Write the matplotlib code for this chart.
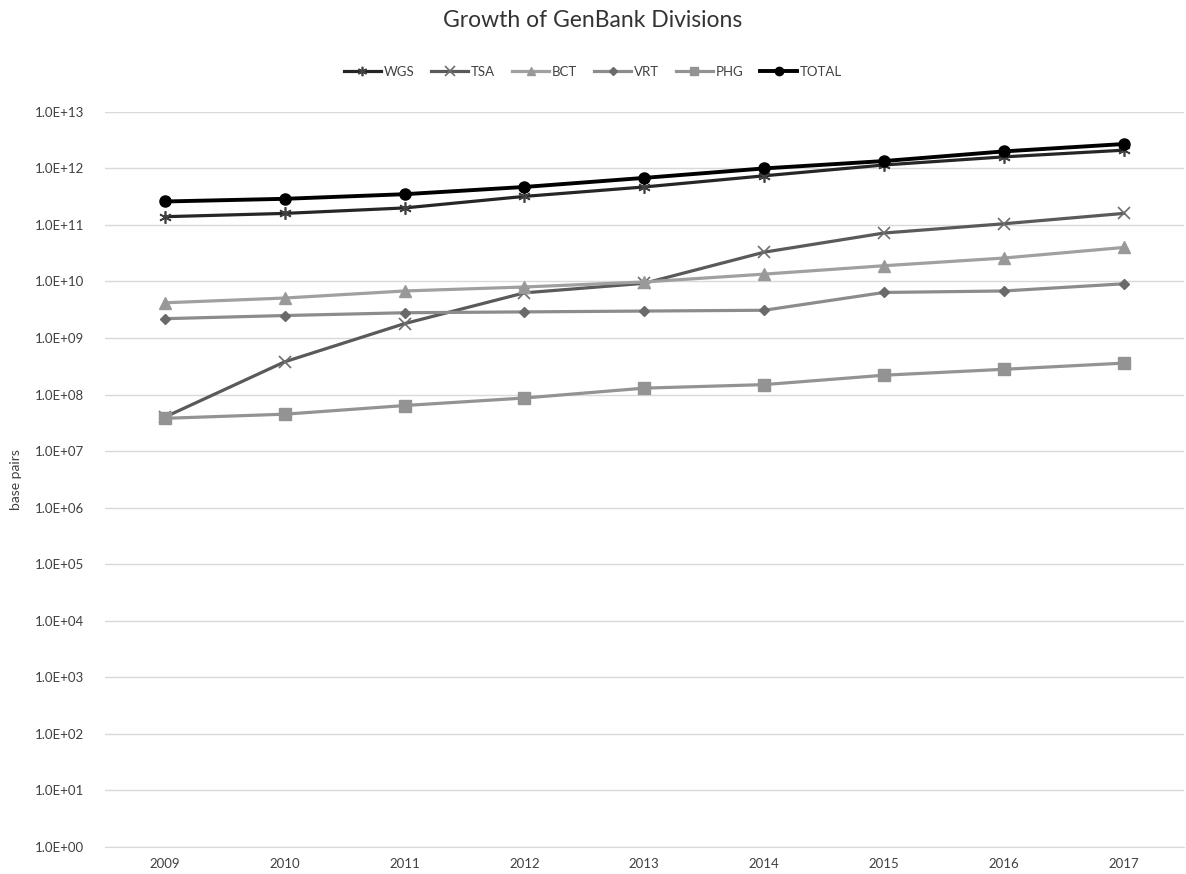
import matplotlib.pyplot as plt
from matplotlib.ticker import FixedLocator, NullLocator

plt.rcParams["font.family"] = ["Lato", "DejaVu Sans"]

years = ["2009", "2010", "2011", "2012", "2013", "2014", "2015", "2016", "2017"]
wgs = [1.4e11, 1.6e11, 2.0e11, 3.2e11, 4.7e11, 7.4e11, 1.15e12, 1.6e12, 2.1e12]
tsa = [4.0e7, 3.8e8, 1.8e9, 6.3e9, 9.3e9, 3.3e10, 7.2e10, 1.05e11, 1.6e11]
bct = [4.2e9, 5.1e9, 6.8e9, 8.0e9, 9.8e9, 1.35e10, 1.9e10, 2.6e10, 4.0e10]
vrt = [2.2e9, 2.5e9, 2.8e9, 2.9e9, 3.0e9, 3.1e9, 6.4e9, 6.8e9, 9.1e9]
phg = [3.8e7, 4.5e7, 6.4e7, 8.7e7, 1.3e8, 1.5e8, 2.2e8, 2.8e8, 3.6e8]
total = [2.6e11, 2.9e11, 3.5e11, 4.7e11, 6.8e11, 1.0e12, 1.35e12, 2.0e12, 2.7e12]

fig = plt.figure(figsize=(11.86, 8.74), dpi=100)
ax = fig.add_axes([0.0885, 0.031, 0.9095, 0.841])

x = range(len(years))
ax.plot(x, wgs, color="#262626", lw=2.3, marker=(6, 2, 0), ms=9, mew=1.2, mec="#404040", label="WGS", zorder=4)
ax.plot(x, tsa, color="#5a5a5a", lw=2.3, marker="x", ms=9, mew=1.2, mec="#6e6e6e", label="TSA", zorder=3)
ax.plot(x, bct, color="#a0a0a0", lw=2.3, marker="^", ms=8, mec="#999999", mfc="#999999", label="BCT", zorder=3)
ax.plot(x, vrt, color="#8c8c8c", lw=2.3, marker="D", ms=5.5, mfc="#6a6a6a", mec="#6a6a6a", label="VRT", zorder=3)
ax.plot(x, phg, color="#939393", lw=2.3, marker="s", ms=8, mfc="#939393", mec="#939393", label="PHG", zorder=3)
ax.plot(x, total, color="#000000", lw=2.8, marker="o", ms=8, label="TOTAL", zorder=5)

ax.set_yscale("log")
ax.set_ylim(1, 1e13)
ax.set_xlim(-0.5, len(years) - 0.5)
yt = [10.0 ** k for k in range(14)]
ax.yaxis.set_major_locator(FixedLocator(yt))
ax.yaxis.set_minor_locator(NullLocator())
ax.set_yticklabels(["1.0E+%02d" % k for k in range(14)], fontsize=9.5, color="#404040")
ax.set_xticks(list(x))
ax.set_xticklabels(years, fontsize=9.5, color="#404040")
ax.tick_params(axis="y", length=0, pad=15)
ax.tick_params(axis="x", length=0, pad=8)
ax.grid(axis="y", color="#d9d9d9", lw=1)
ax.set_axisbelow(True)
for s in ["top", "right", "left"]:
    ax.spines[s].set_visible(False)
ax.spines["bottom"].set_color("#d9d9d9")

ax.set_ylabel("base pairs", fontsize=10, color="#404040", labelpad=9)
fig.text(0.5, 0.976, "Growth of GenBank Divisions", ha="center", va="center",
         fontsize=16.5, color="#333333")
fig.legend(loc="center", bbox_to_anchor=(0.5, 0.918), ncol=6, frameon=False,
           fontsize=9.5, handlelength=2.8, columnspacing=1.3, handletextpad=0.2,
           markerscale=0.75, labelcolor="#404040")

fig.savefig("out.png", dpi=100)
